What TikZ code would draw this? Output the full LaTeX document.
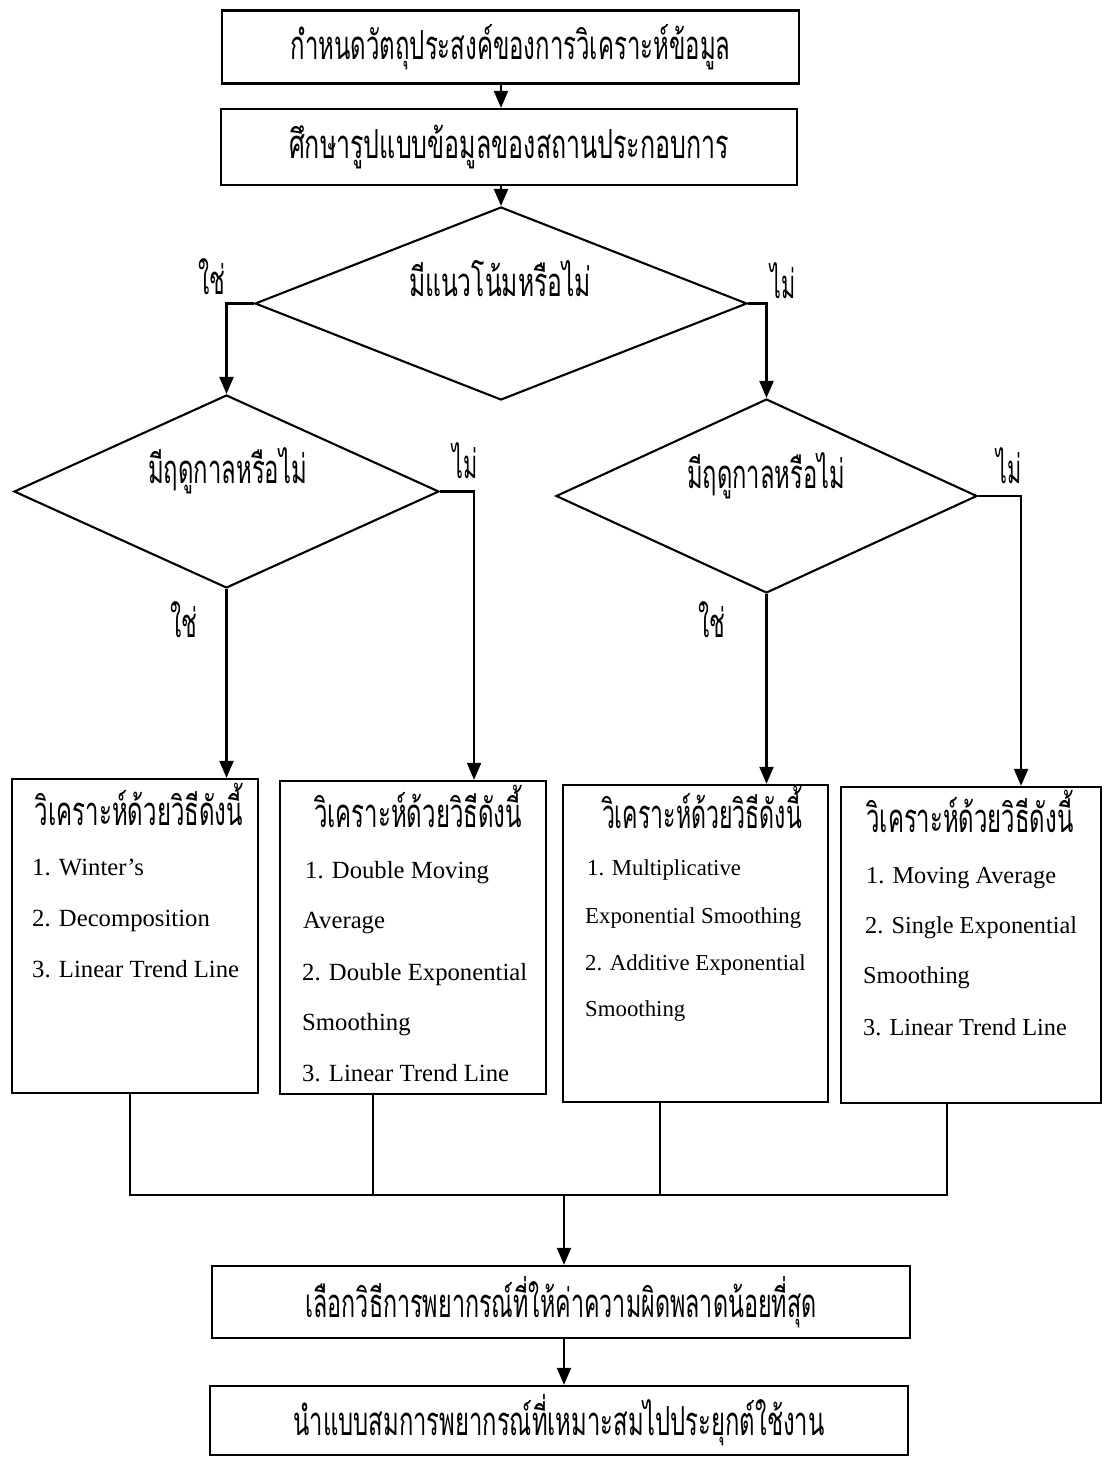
\documentclass[tikz,border=0pt]{standalone}
\usepackage{fontspec}
\usepackage{graphicx}
\setmainfont{Liberation Serif}
\newfontfamily\thaifont[Script=Thai]{Loma}
\usetikzlibrary{shapes.geometric,arrows.meta,calc}

% Thai text squeezed horizontally to a given width (in bp), natural height kept
\newcommand\thw[2]{\resizebox{#1bp}{\height}{\thaifont #2}}

\tikzset{
  conn/.style={line width=2.1bp, black},
  arr/.style={conn, -{Triangle[length=17bp,width=14bp]}},
  procbox/.style={draw, line width=2.3bp, rectangle, inner sep=0pt,
                  font=\fontsize{40bp}{44bp}\selectfont},
  decision/.style={draw, line width=2.1bp, diamond, inner sep=0pt},
  thlabel/.style={inner sep=0pt, anchor=base, font=\fontsize{40bp}{44bp}\selectfont},
  item/.style={inner sep=0pt, anchor=base west, font=\fontsize{24.7bp}{30bp}\selectfont},
  itemsm/.style={item, font=\fontsize{22.8bp}{28bp}\selectfont},
  itemmd/.style={item, font=\fontsize{24.3bp}{30bp}\selectfont},
}

\begin{document}
\begin{tikzpicture}[x=1bp,y=-1bp]
\fill[white] (0,0) rectangle (1103,1458);
\useasboundingbox (0,0) rectangle (1103,1458);

% top process boxes
\node[procbox, minimum width=577bp, minimum height=73bp] (box1) at (510.5,47)
  {\thw{440}{กำหนดวัตถุประสงค์ของการวิเคราะห์ข้อมูล}};
\node[procbox, minimum width=576bp, minimum height=76bp] (box2) at (509,147)
  {\thw{440}{ศึกษารูปแบบข้อมูลของสถานประกอบการ}};

% decisions
\node[decision, minimum width=492bp, minimum height=193bp] (d1) at (501,303.5) {};
\node[decision, minimum width=425bp, minimum height=193bp] (d2) at (226.5,491.5) {};
\node[decision, minimum width=421bp, minimum height=194bp] (d3) at (766.5,496) {};

\node[thlabel] (d1t) at (500,296) {\thw{182}{มีแนวโน้มหรือไม่}};
\node[thlabel] (d2t) at (227.5,483) {\thw{159}{มีฤดูกาลหรือไม่}};
\node[thlabel] (d3t) at (766,488) {\thw{158}{มีฤดูกาลหรือไม่}};

% branch labels
\node[thlabel] (y1) at (212,294) {\thw{27}{ใช่}};
\node[thlabel] (n1) at (783,298) {\thw{25}{ไม่}};
\node[thlabel] (n2) at (465,478) {\thw{25}{ไม่}};
\node[thlabel] (y2) at (184,637) {\thw{27}{ใช่}};
\node[thlabel] (n3) at (1009,483) {\thw{25}{ไม่}};
\node[thlabel] (y3) at (712,637) {\thw{27}{ใช่}};

% method boxes
\node[procbox, minimum width=246bp, minimum height=314bp] (b1) at (135,936) {};
\node[procbox, minimum width=266bp, minimum height=313bp] (b2) at (413,937.5) {};
\node[procbox, minimum width=265bp, minimum height=317bp] (b3) at (695.5,943.5) {};
\node[procbox, minimum width=260bp, minimum height=316bp] (b4) at (971,945) {};

\node[thlabel] (b1h) at (139,825) {\thw{208}{วิเคราะห์ด้วยวิธีดังนี้}};
\node[thlabel] (b2h) at (418,827) {\thw{208}{วิเคราะห์ด้วยวิธีดังนี้}};
\node[thlabel] (b3h) at (702,828) {\thw{200}{วิเคราะห์ด้วยวิธีดังนี้}};
\node[thlabel] (b4h) at (970,832) {\thw{207}{วิเคราะห์ด้วยวิธีดังนี้}};

\node[item] (b1a) at (32,875) {1. Winter’s};
\node[item] (b1b) at (32,926) {2. Decomposition};
\node[item] (b1c) at (32,977) {3. Linear Trend Line};

\node[item] (b2a) at (305,878) {1. Double Moving};
\node[item] (b2b) at (303,928) {Average};
\node[item] (b2c) at (302,980) {2. Double Exponential};
\node[item] (b2d) at (302,1030) {Smoothing};
\node[item] (b2e) at (302,1081) {3. Linear Trend Line};

\node[itemsm] (b3a) at (587,875) {1. Multiplicative};
\node[itemsm] (b3b) at (585,923) {Exponential Smoothing};
\node[itemsm] (b3c) at (585,970) {2. Additive Exponential};
\node[itemsm] (b3d) at (585,1016) {Smoothing};

\node[itemmd] (b4a) at (866,883) {1. Moving Average};
\node[itemmd] (b4b) at (865,933) {2. Single Exponential};
\node[itemmd] (b4c) at (863,983) {Smoothing};
\node[itemmd] (b4d) at (863,1035) {3. Linear Trend Line};

% bottom process boxes
\node[procbox, minimum width=698bp, minimum height=72bp] (box5) at (561,1302)
  {\thw{511}{เลือกวิธีการพยากรณ์ที่ให้ค่าความผิดพลาดน้อยที่สุด}};
\node[procbox, minimum width=698bp, minimum height=69bp] (box6) at (559,1420.5)
  {\thw{531}{นำแบบสมการพยากรณ์ที่เหมาะสมไปประยุกต์ใช้งาน}};

% connectors
\draw[arr] (box1.south -| d1.north) -- (box2.north -| d1.north);
\draw[arr] (box2.south -| d1.north) -- (d1.north);
\draw[arr] (d1.west) -| (d2.north);
\draw[arr] (d1.east) -| (d3.north);
\draw[arr] (d2.south) -- (d2.south |- b1.north);
\draw[arr] (d2.east) -- ++(34,0) coordinate (d2k) -- (d2k |- b2.north);
\draw[arr] (d3.south) -- (d3.south |- b3.north);
\draw[arr] (d3.east) -- ++(43,0) coordinate (d3k) -- (d3k |- b4.north);

\coordinate (m) at (564,1195);
\draw[conn] ([xshift=-5bp]b1.south) |- ([xshift=-24bp]b4.south |- m) -- ([xshift=-24bp]b4.south);
\draw[conn] ([xshift=-40bp]b2.south) -- ([xshift=-40bp]b2.south |- m);
\draw[conn] ([xshift=-35.5bp]b3.south) -- ([xshift=-35.5bp]b3.south |- m);
\draw[arr] (m) -- (m |- box5.north);
\draw[arr] (box5.south -| m) -- (box6.north -| m);
\end{tikzpicture}
\end{document}
